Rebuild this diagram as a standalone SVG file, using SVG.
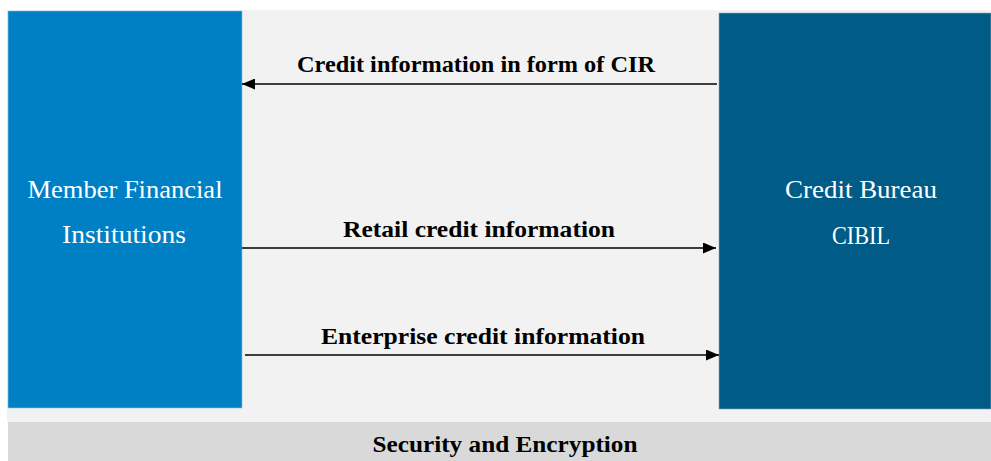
<svg xmlns="http://www.w3.org/2000/svg" width="991" height="461" viewBox="0 0 991 461">
<style>
.lbl{font-family:"Liberation Serif","DejaVu Serif",serif;font-weight:bold;font-size:24px;fill:#000;text-anchor:middle}
.node{font-family:"Liberation Serif","DejaVu Serif",serif;font-size:26px;fill:#fff;text-anchor:middle}
.conn{stroke:#000;stroke-width:1.6;fill:none;marker-end:url(#ah)}
</style>
<defs>
<marker id="ah" viewBox="0 0 13 11" refX="13" refY="5.5" markerWidth="13" markerHeight="11" markerUnits="userSpaceOnUse" orient="auto">
<path d="M0,0 L13,5.5 L0,11 Z" fill="#000"/>
</marker>
</defs>
<rect x="0" y="0" width="991" height="461" fill="#fff"/>
<rect x="7" y="10" width="984" height="412" fill="#f2f2f2"/>
<g id="member">
<rect x="8" y="11" width="234" height="397" fill="#0080c4" stroke="#8cc4e4" stroke-width="0.6"/>
<text class="node" x="125" y="198" textLength="195" lengthAdjust="spacingAndGlyphs">Member Financial</text>
<text class="node" x="124" y="243" textLength="124" lengthAdjust="spacingAndGlyphs">Institutions</text>
</g>
<g id="bureau">
<rect x="719" y="13" width="272" height="396" fill="#005b87" stroke="#8aa9bc" stroke-width="0.6"/>
<text class="node" x="861" y="198" textLength="152" lengthAdjust="spacingAndGlyphs">Credit Bureau</text>
<text class="node" x="861" y="244" textLength="58" lengthAdjust="spacingAndGlyphs">CIBIL</text>
</g>
<g id="security">
<rect x="8" y="422" width="983" height="39" fill="#d9d9d9"/>
<text class="lbl" x="505" y="452" textLength="265" lengthAdjust="spacingAndGlyphs">Security and Encryption</text>
</g>
<g id="connectors">
<line class="conn" x1="717" y1="84" x2="242" y2="84"/>
<text class="lbl" x="476" y="72" textLength="358" lengthAdjust="spacingAndGlyphs">Credit information in form of CIR</text>
<line class="conn" x1="242" y1="248" x2="716" y2="248"/>
<text class="lbl" x="479" y="237" textLength="272" lengthAdjust="spacingAndGlyphs">Retail credit information</text>
<line class="conn" x1="245" y1="355" x2="719" y2="355"/>
<text class="lbl" x="483" y="344" textLength="324" lengthAdjust="spacingAndGlyphs">Enterprise credit information</text>
</g>
</svg>
